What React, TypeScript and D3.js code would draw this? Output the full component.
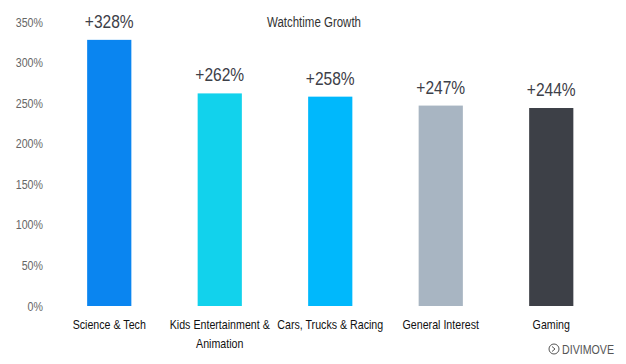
import React, { useEffect, useRef } from 'react';
import * as d3 from 'd3';

// categories and growth values
const categories = ['Science & Tech', 'Kids Entertainment & Animation', 'Cars, Trucks & Racing', 'General Interest', 'Gaming'];
const categoryLines = [['Science & Tech'], ['Kids Entertainment &', 'Animation'], ['Cars, Trucks & Racing'], ['General Interest'], ['Gaming']];
const growth = [3.28, 2.62, 2.58, 2.47, 2.44];
const barColors = ['#0a85f0', '#12d2ec', '#00b8fc', '#a8b5c2', '#3d4047'];
const yTicks = [0, 0.5, 1, 1.5, 2, 2.5, 3, 3.5];

const W = 626, H = 364;
const FONT = '"Liberation Sans", Arial, sans-serif';
const SX = 0.82; // squeeze to mimic the condensed face

const App = () => {
	const ref = useRef<SVGSVGElement>(null);

	useEffect(() => {
		const svg = d3.select(ref.current);
		svg.selectAll('*').remove();

		const x = d3.scaleBand().domain(categories).range([54, 606.5]).paddingInner(0.6).paddingOuter(0.3);
		const y = d3.scaleLinear().domain([0, 3.5]).range([306, 22]);
		const cx = (i) => x(categories[i]) + x.bandwidth() / 2;

		svg.append('rect').attr('width', W).attr('height', H).attr('fill', '#fff');

		// helper: condensed text at a point
		const txt = (g, px, py, s, size, fill, anchor) => {
			g.append('g')
				.attr('transform', `translate(${px},${py}) scale(${SX},1)`)
				.append('text')
				.attr('text-anchor', anchor)
				.attr('font-family', FONT)
				.attr('font-size', size)
				.attr('fill', fill)
				.text(s);
		};

		// y tick labels (no axis line)
		const yg = svg.append('g');
		yTicks.forEach((t) => txt(yg, 43, y(t) + 4.5, d3.format('.0%')(t), 13, '#666', 'end'));

		txt(svg, 314, 27, 'Watchtime Growth', 14, '#333', 'middle');

		svg.append('g')
			.selectAll('rect')
			.data(growth)
			.join('rect')
			.attr('x', (d, i) => x(categories[i]))
			.attr('y', (d) => y(d))
			.attr('width', x.bandwidth())
			.attr('height', (d) => y(0) - y(d))
			.attr('fill', (d, i) => barColors[i]);

		const vg = svg.append('g');
		growth.forEach((d, i) => txt(vg, cx(i), y(d) - 12, '+' + Math.round(d * 100) + '%', 19, '#3d4048', 'middle'));

		const lg = svg.append('g');
		categoryLines.forEach((lines, i) =>
			lines.forEach((s, j) => txt(lg, cx(i), 329 + j * 19, s, 13, '#111', 'middle'))
		);

		// logo
		const logo = svg.append('g').attr('transform', 'translate(554,349)');
		logo.append('circle').attr('r', 5).attr('fill', 'none').attr('stroke', '#555').attr('stroke-width', 1);
		logo.append('path').attr('d', 'M-2,-2.5 L1,0 L-2,2.5').attr('fill', 'none').attr('stroke', '#555').attr('stroke-width', 1);
		txt(logo, 8, 4.5, 'DIVIMOVE', 13, '#555', 'start');
	}, []);

	return <svg ref={ref} width={W} height={H} style={{ position: 'absolute', left: 0, top: 0 }} />;
};

export default App;
